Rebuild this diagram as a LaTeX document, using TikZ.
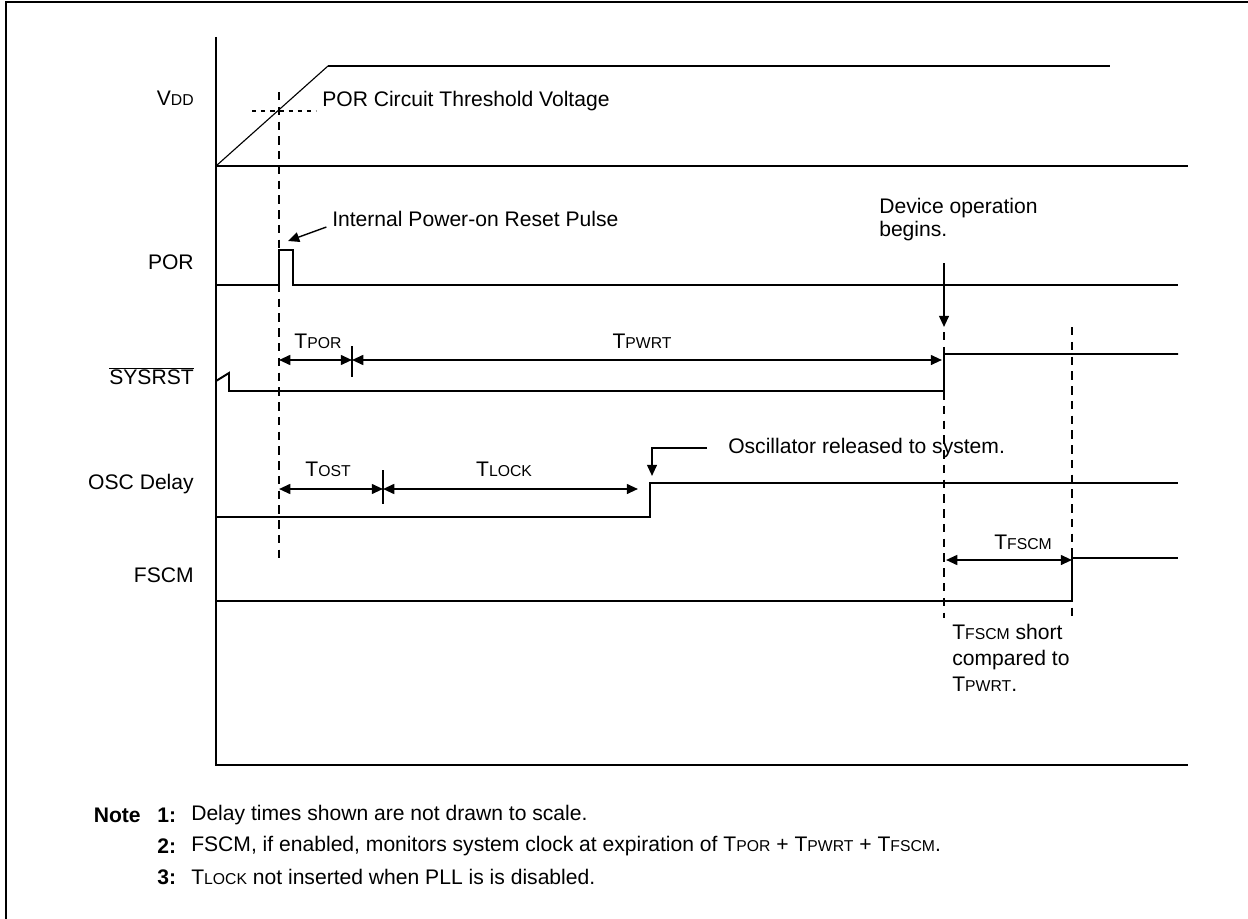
\documentclass[tikz,border=0pt]{standalone}
\usepackage{fontspec}
\setmainfont{Liberation Sans}
\usetikzlibrary{arrows.meta,positioning,calc}

\newcommand{\lc}[1]{{\fontsize{11.2}{12}\selectfont #1}}

\begin{document}
\begin{tikzpicture}[
    x=0.025cm, y=-0.025cm,
    >={Triangle[length=8pt,width=7pt]},
    font=\fontsize{15}{16.5}\selectfont,
    % Styles
    wave/.style={line width=1.4pt},
    axis/.style={line width=1.4pt},
    guide/.style={line width=1.4pt, dash pattern=on 6pt off 4.5pt},
    thresh/.style={line width=1.1pt, dash pattern=on 3pt off 3.5pt},
    span/.style={<->, line width=1.4pt},
    callout/.style={->, line width=1.4pt},
    tick/.style={line width=1pt},
    sig/.style={anchor=east, inner sep=0pt},
    note/.style={anchor=west, inner sep=0pt, align=left},
    fnote/.style={anchor=west, inner sep=0pt, font=\fontsize{15}{16}\selectfont},
    fnotebold/.style={fnote, font=\bfseries\fontsize{15}{16}\selectfont}
]

\useasboundingbox (0,0) rectangle (1248,919);

% ── FRAME AND AXES ──
\draw[line width=1.6pt] (6,919) -- (6,2) -- (1248,2);
\draw[axis] (216,37) -- (216,765) -- (1188,765);
\draw[axis] (216,166) -- (1188,166);

% ── SIGNAL NAMES ──
\node[sig] (vddlbl) at (194,98) {V\lc{DD}};
\node[sig] (porlbl) at (194,262) {POR};
\node[sig] (rstlbl) at (194,376) {$\overline{\mbox{SYSRST}}$};
\node[sig] (osclbl) at (194,484) {OSC Delay};
\node[sig] (fscmlbl) at (194,575) {FSCM};

% ── VDD ──
\coordinate (vddtop) at (328,66);
\draw[line width=0.8pt] (216,166) -- (vddtop);
\draw[wave] (vddtop) -- (1110,66);
\draw[thresh] (252,111) -- (316,111);
\node[note] (thrlbl) at (322,101) {POR Circuit Threshold Voltage};

% ── GUIDES ──
\draw[guide] (279,92) -- (279,560);
\draw[guide] (944,332) -- (944,618);
\draw[guide] (1072,327) -- (1072,618);

% ── POR ──
\coordinate (pulsetip) at (288,241);
\draw[wave] (216,285) -- (279,285) -- (279,250) -- (293,250) -- (293,285) -- (1178,285);
\node[note] (pulselbl) at (332,219) {Internal Power-on Reset Pulse};
\draw[callout, line width=1pt] ([xshift=-4pt]pulselbl.south west) -- (pulsetip);

% ── SYSRST ──
\coordinate (sysstep) at (944,354);
\draw[wave] (216,381) -- (229,373) -- (229,391) -- (944,391) -- (sysstep) -- (1178,354);
\draw[span] (279,360) -- (352,360);
\draw[span] (352,360) -- (942,360);
\draw[tick] (352,346) -- (352,377);
\node (tporlbl) at (318,341) {T\lc{POR}};
\node (tpwrtlbl) at (642,341) {T\lc{PWRT}};
\node[note, anchor=north west, font=\fontsize{15}{16.4}\selectfont] (devlbl) at (879,198) {Device operation\\begins.};
\draw[callout] (devlbl.south -| sysstep) ++(0,22) -- (944,327);

% ── OSC DELAY ──
\coordinate (oscstep) at (650,483);
\draw[wave] (216,517) -- (650,517) -- (oscstep) -- (1178,483);
\draw[span] (279,489) -- (383,489);
\draw[span] (383,489) -- (638,489);
\draw[tick] (383,470) -- (383,504);
\node (tostlbl) at (328,469) {T\lc{OST}};
\node (tlocklbl) at (504,469) {T\lc{LOCK}};
\node[note] (oscnote) at (728,448) {Oscillator released to system.};
\draw[callout] ($(oscnote.west)+(-21,0)$) -| (652,476);

% ── FSCM ──
\coordinate (fscmstep) at (1072,558);
\draw[wave] (216,601) -- (1072,601) -- (fscmstep) -- (1178,558);
\draw[span] (946,560) -- (1072,560);
\node (tfscmlbl) at (1023,542) {T\lc{FSCM}};
\node[note, anchor=north west, font=\fontsize{15}{18.3}\selectfont] (shortlbl) at (952,624) {T\lc{FSCM} short\\compared to\\T\lc{PWRT}.};

% ── NOTES ──
\node[fnotebold, anchor=east] (notehd) at (141,815) {Note};
\foreach \n/\y in {1/815, 2/846, 3/877}
    \node[fnotebold] (num\n) at (157,\y) {\n:};
\node[fnote] (note1) at (191,815) {Delay times shown are not drawn to scale.};
\node[fnote] (note2) at (191,846) {FSCM, if enabled, monitors system clock at expiration of T\lc{POR} + T\lc{PWRT} + T\lc{FSCM}.};
\node[fnote] (note3) at (191,877) {T\lc{LOCK} not inserted when PLL is is disabled.};

\end{tikzpicture}
\end{document}
